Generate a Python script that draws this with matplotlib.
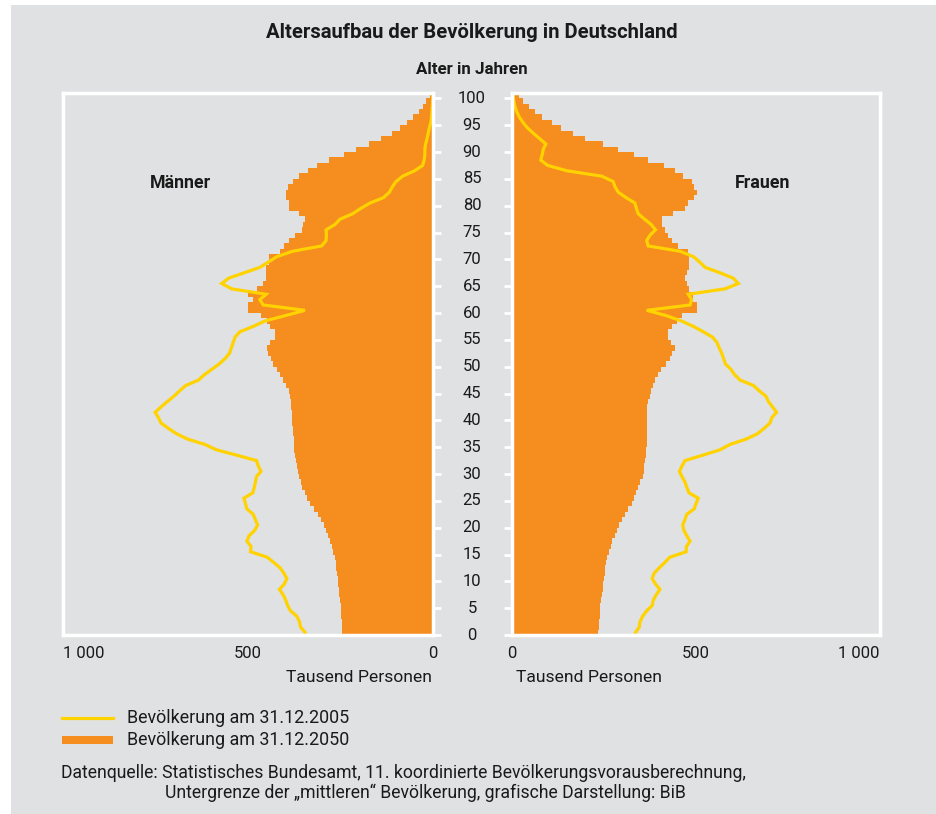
import matplotlib
matplotlib.use("Agg")
import matplotlib.pyplot as plt
from matplotlib.patches import Rectangle
from matplotlib.lines import Line2D
import numpy as np

plt.rcParams['font.family'] = ['Roboto', 'DejaVu Sans']

# ---------------- data (Tausend Personen, ages 0..100) ----------------
ages = list(range(0, 101))

male_2050 = [
    245, 246, 247, 248, 249, 250, 251, 253, 254, 256,
    257, 259, 261, 263, 266, 269, 273, 278, 284, 290,
    294, 302, 312, 322, 332, 340, 347, 353, 358, 362,
    365, 368, 371, 373, 375, 376, 377, 378, 379, 380,
    381, 382, 383, 384, 386, 390, 397, 405, 413, 422,
    432, 437, 445, 450, 441, 427, 427, 441, 450, 466,
    499, 499, 487, 499, 477, 459, 451, 451, 451, 443,
    442, 414, 403, 388, 373, 355, 352, 346, 361, 388,
    388, 397, 397, 393, 378, 361, 337, 313, 280, 241,
    208, 172, 141, 112, 90, 70, 53, 39, 28, 18, 9]

female_2050 = [
    235, 236, 237, 238, 239, 240, 242, 244, 246, 248,
    250, 252, 254, 256, 259, 263, 268, 273, 279, 286,
    292, 299, 306, 315, 325, 332, 338, 343, 349, 355,
    358, 360, 361, 363, 365, 366, 366, 366, 366, 366,
    366, 366, 368, 370, 374, 379, 384, 389, 396, 404,
    418, 428, 434, 443, 431, 423, 425, 434, 448, 461,
    502, 502, 491, 491, 480, 475, 470, 475, 482, 480,
    480, 479, 452, 434, 425, 415, 407, 407, 438, 470,
    479, 495, 502, 495, 488, 466, 443, 414, 370, 332,
    289, 248, 198, 167, 132, 108, 81, 62, 47, 31, 20]

male_2005 = [
    346, 358, 361, 368, 385, 393, 398, 405, 415, 402,
    395, 403, 413, 430, 448, 493, 492, 503, 497, 482,
    474, 480, 486, 503, 507, 511, 487, 483, 480, 477,
    465, 472, 477, 530, 585, 616, 663, 693, 715, 735,
    742, 751, 735, 718, 700, 685, 668, 634, 618, 598,
    578, 562, 550, 545, 540, 535, 522, 486, 455, 400,
    346, 459, 468, 451, 544, 571, 552, 510, 468, 445,
    422, 380, 301, 289, 288, 289, 265, 251, 217, 195,
    170, 134, 118, 110, 100, 82, 50, 28, 24, 22,
    22, 20, 16, 13, 10, 6, 4, 3, 2, 1, 0]

female_2005 = [
    336, 346, 348, 355, 366, 381, 384, 392, 402, 390,
    381, 386, 400, 415, 429, 473, 474, 484, 475, 467,
    464, 470, 475, 495, 500, 506, 481, 475, 470, 462,
    455, 462, 470, 518, 565, 592, 636, 667, 685, 701,
    706, 719, 708, 697, 690, 672, 656, 620, 605, 595,
    580, 575, 570, 563, 557, 545, 520, 493, 461, 420,
    366, 484, 488, 479, 579, 615, 601, 565, 525, 510,
    493, 457, 370, 366, 375, 390, 378, 360, 343, 338,
    334, 310, 289, 280, 275, 244, 150, 97, 78, 82,
    85, 92, 75, 58, 42, 30, 20, 13, 8, 5, 3]

age_ticks = list(range(0, 101, 5))
x_ticks = [0, 500, 1000]
x_ticklabels = ['0', '500', '1 000']

title = 'Altersaufbau der Bevölkerung in Deutschland'
ylabel = 'Alter in Jahren'
xlabel = 'Tausend Personen'
legend_labels = ['Bevölkerung am 31.12.2005', 'Bevölkerung am 31.12.2050']
source_lines = ['Datenquelle: Statistisches Bundesamt, 11. koordinierte Bevölkerungsvorausberechnung,',
                'Untergrenze der „mittleren“ Bevölkerung, grafische Darstellung: BiB']

# ---------------- style ----------------
BG = '#e0e1e2'
ORANGE = '#f58d1f'
YELLOW = '#ffd200'
TXT = '#1a1a1a'
W, H = 936, 814

fig = plt.figure(figsize=(W / 100, H / 100), dpi=100)
fig.patch.set_facecolor('white')
fig.add_artist(Rectangle((11 / W, 0), 1, (H - 5) / H, transform=fig.transFigure,
                         facecolor=BG, edgecolor='none', zorder=-10))

def fx(px):
    return px / W

def fy(py):
    return 1 - py / H

ax_top, ax_bot = 93, 635
axL = fig.add_axes([fx(63), fy(ax_bot), fx(433) - fx(63), fy(ax_top) - fy(ax_bot)])
axR = fig.add_axes([fx(512), fy(ax_bot), fx(880) - fx(512), fy(ax_top) - fy(ax_bot)])

line_ages = [a + 0.5 for a in ages]
for ax, bars, line in ((axL, male_2050, male_2005), (axR, female_2050, female_2005)):
    ax.set_facecolor(BG)
    ax.barh(ages, bars, height=1.0, align='edge', color=ORANGE, linewidth=0, zorder=2)
    ax.plot(line, line_ages, color=YELLOW, lw=2.3, zorder=3, solid_joinstyle='miter')
    ax.set_ylim(0, 101)
    ax.set_xlim(0, 1000)
    for s in ax.spines.values():
        s.set_color('white')
        s.set_linewidth(2.5)
        s.set_zorder(4)
    ax.set_yticks(age_ticks)
    ax.set_xticks(x_ticks)
    ax.set_xticklabels(x_ticklabels, fontsize=12, color=TXT)
    ax.tick_params(axis='x', length=0, pad=8)

axL.invert_xaxis()
axL.yaxis.tick_right()
axL.tick_params(axis='y', direction='out', length=6, width=2, color='white',
                labelright=False, labelleft=False)
axR.yaxis.tick_left()
axR.tick_params(axis='y', direction='out', length=6, width=2, color='white',
                labelright=False, labelleft=False)

axL.get_xticklabels()[2].set_ha('left')
axR.get_xticklabels()[2].set_ha('right')

# central age labels
xc = 1 + (472 - 433) / 370
for a in age_ticks:
    axL.text(xc, a, str(a), transform=axL.get_yaxis_transform(), ha='center', va='center',
             fontsize=12, color=TXT, clip_on=False)

fig.text(fx(472), fy(33), title, ha='center', va='center', fontsize=14.6, fontweight='bold', color=TXT)
fig.text(fx(472), fy(70), ylabel, ha='center', va='center', fontsize=12.2, fontweight='bold', color=TXT)
fig.text(fx(180), fy(183), 'Männer', ha='center', va='center', fontsize=12.8, fontweight='bold', color=TXT)
fig.text(fx(763), fy(183), 'Frauen', ha='center', va='center', fontsize=12.8, fontweight='bold', color=TXT)

fig.text(fx(432), fy(677), xlabel, ha='right', va='center', fontsize=12.6, color=TXT)
fig.text(fx(516), fy(677), xlabel, ha='left', va='center', fontsize=12.6, color=TXT)

# legend
fig.add_artist(Line2D([fx(62), fx(113)], [fy(718), fy(718)], color=YELLOW, lw=2.3,
                      transform=fig.transFigure))
fig.add_artist(Rectangle((fx(62), fy(744)), fx(113) - fx(62), fy(736) - fy(744),
                         transform=fig.transFigure, facecolor=ORANGE, edgecolor='none'))
fig.text(fx(127), fy(718), legend_labels[0], ha='left', va='center', fontsize=12.9, color=TXT)
fig.text(fx(127), fy(740), legend_labels[1], ha='left', va='center', fontsize=12.9, color=TXT)

fig.text(fx(61), fy(773), source_lines[0], ha='left', va='center', fontsize=12.7, color=TXT)
fig.text(fx(165), fy(793), source_lines[1], ha='left', va='center', fontsize=12.7, color=TXT)

fig.savefig('out.png', dpi=100, facecolor=fig.get_facecolor())
